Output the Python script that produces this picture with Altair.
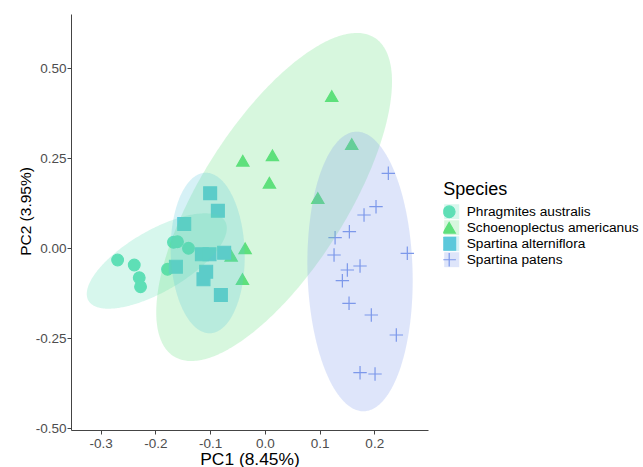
import altair as alt
import numpy as np
import pandas as pd

species_names = ["Phragmites australis", "Schoenoplectus americanus",
                 "Spartina alterniflora", "Spartina patens"]

# PCA scores
phr_pc1 = [-0.269, -0.2386, -0.2295, -0.2271, -0.1669, -0.1596, -0.1395, -0.1778]
phr_pc2 = [-0.0325, -0.0464, -0.0817, -0.1067, 0.0167, 0.0183, 0.0, -0.0583]

sch_pc1 = [0.1223, 0.1588, -0.0402, 0.0139, 0.0084, 0.0968, -0.036, -0.0615, -0.0409]
sch_pc2 = [0.423, 0.2897, 0.2433, 0.2583, 0.1822, 0.1397, 0.0, -0.0206, -0.0853]

alt_pc1 = [-0.0999, -0.0858, -0.1473, -0.115, -0.1011, -0.0743, -0.1625, -0.1072, -0.1121, -0.0803]
alt_pc2 = [0.1528, 0.1044, 0.0675, -0.0167, -0.0167, -0.0122, -0.0511, -0.065, -0.0861, -0.1297]

pat_pc1 = [0.2257, 0.2032, 0.1813, 0.1545, 0.1284, 0.2604, 0.1265, 0.174, 0.1508,
           0.1417, 0.1539, 0.1946, 0.2403, 0.174, 0.2014]
pat_pc2 = [0.2083, 0.1156, 0.0925, 0.0461, 0.0294, -0.0139, -0.0186, -0.0492, -0.0603,
           -0.09, -0.1528, -0.1853, -0.2408, -0.3456, -0.3492]

# ellipse parameters: centre, half extents, correlation
ell_cx = [-0.1974, 0.017, -0.1044, 0.174]
ell_cy = [-0.0353, 0.1425, -0.013, -0.0644]
ell_sx = [0.128, 0.2154, 0.0676, 0.0962]
ell_sy = [0.1325, 0.4556, 0.223, 0.3883]
ell_r = [0.69, 0.703, -0.05, -0.063]

colors = ["#5EDFB6", "#5EE07C", "#5CC9DB", "#7C98EA"]
shapes = ["circle", "triangle-up", "square", "M-1,0L1,0M0,-1L0,1"]
sizes = [137, 180, 114, 324]

x_ticks = [-0.3, -0.2, -0.1, 0.0, 0.1, 0.2]
y_ticks = [-0.5, -0.25, 0.0, 0.25, 0.5]
x_domain = [-0.3542, 0.2982]
y_domain = [-0.5047, 0.6508]

rows = []
for sp, xs, ys in zip(species_names,
                      [phr_pc1, sch_pc1, alt_pc1, pat_pc1],
                      [phr_pc2, sch_pc2, alt_pc2, pat_pc2]):
    for a, b in zip(xs, ys):
        rows.append({"Species": sp, "PC1": a, "PC2": b})
pts = pd.DataFrame(rows)

erows = []
t = np.linspace(0, np.pi, 181)
for sp, cx, cy, sx, sy, r in zip(species_names, ell_cx, ell_cy, ell_sx, ell_sy, ell_r):
    q = np.sqrt(1 - r * r)
    for tt in t:
        erows.append({
            "Group": sp,
            "ex": float(cx + sx * np.cos(tt)),
            "ey1": float(cy + sy * (r * np.cos(tt) + q * np.sin(tt))),
            "ey2": float(cy + sy * (r * np.cos(tt) - q * np.sin(tt))),
        })
ell = pd.DataFrame(erows)

FONT = "Liberation Sans"
LX, LY = 372.3, 167

xscale = alt.Scale(domain=x_domain, nice=False, zero=False)
yscale = alt.Scale(domain=y_domain, nice=False, zero=False)

xaxis = alt.Axis(values=x_ticks, title="PC1 (8.45%)", grid=False,
                 labelExpr="(datum.value < -0.00001 ? '-' : '') + format(abs(datum.value), '.1f')",
                 domainColor="#444444", tickColor="#444444", tickSize=4,
                 labelFontSize=13.5, labelColor="#4d4d4d", labelPadding=2, labelFont=FONT,
                 titleFontSize=17.4, titleFontWeight="normal", titleColor="black",
                 titleFont=FONT, titlePadding=0.5)
yaxis = alt.Axis(values=y_ticks, title="PC2 (3.95%)", grid=False,
                 labelExpr="(datum.value < -0.00001 ? '-' : '') + format(abs(datum.value), '.2f')",
                 domainColor="#444444", tickColor="#444444", tickSize=4,
                 labelFontSize=13.5, labelColor="#4d4d4d", labelPadding=1, labelFont=FONT,
                 titleFontSize=15.5, titleFontWeight="normal", titleColor="black",
                 titleFont=FONT, titleX=-46, titleY=197, titleAngle=270,
                 titleAlign="center", titleBaseline="middle")

common_leg = dict(orient="none", legendX=LX, legendY=LY,
                  titleFontSize=18, titleFontWeight="normal", titleColor="black", titleFont=FONT,
                  labelFontSize=13.7, labelColor="black", labelFont=FONT, labelLimit=400,
                  clipHeight=15.5, rowPadding=0, titlePadding=5)

pt_legend = alt.Legend(title="Species", symbolOffset=-1.6, labelOffset=10,
                       symbolStrokeWidth=1.2, symbolOpacity=1, **common_leg)
fill_legend = alt.Legend(title=" ", symbolType="square", symbolSize=225, symbolStrokeWidth=0,
                         symbolOpacity=0.25, symbolOffset=0.9, labelExpr="''",
                         **common_leg)

points = alt.Chart(pts).mark_point(filled=True, strokeWidth=1.2, opacity=1).encode(
    x=alt.X("PC1:Q", scale=xscale, axis=xaxis),
    y=alt.Y("PC2:Q", scale=yscale, axis=yaxis),
    color=alt.Color("Species:N", scale=alt.Scale(range=colors), legend=pt_legend),
    stroke=alt.Stroke("Species:N", scale=alt.Scale(range=colors), legend=pt_legend),
    shape=alt.Shape("Species:N", scale=alt.Scale(range=shapes), legend=pt_legend),
    size=alt.Size("Species:N", scale=alt.Scale(range=sizes), legend=pt_legend),
)

ellipses = alt.Chart(ell).mark_area(fillOpacity=0.25).encode(
    x=alt.X("ex:Q", scale=xscale, axis=xaxis),
    y=alt.Y("ey1:Q", scale=yscale, axis=yaxis),
    y2=alt.Y2("ey2"),
    fill=alt.Fill("Group:N", scale=alt.Scale(range=colors), legend=fill_legend),
)

chart = alt.layer(points, ellipses).properties(
    width=357, height=416,
    background="white",
    autosize=alt.AutoSizeParams(type="none"),
    padding={"left": 71, "top": 14, "right": 215, "bottom": 37},
).configure_view(strokeWidth=0)

chart.save("out.html", embed_options={"renderer": "svg", "actions": False})
